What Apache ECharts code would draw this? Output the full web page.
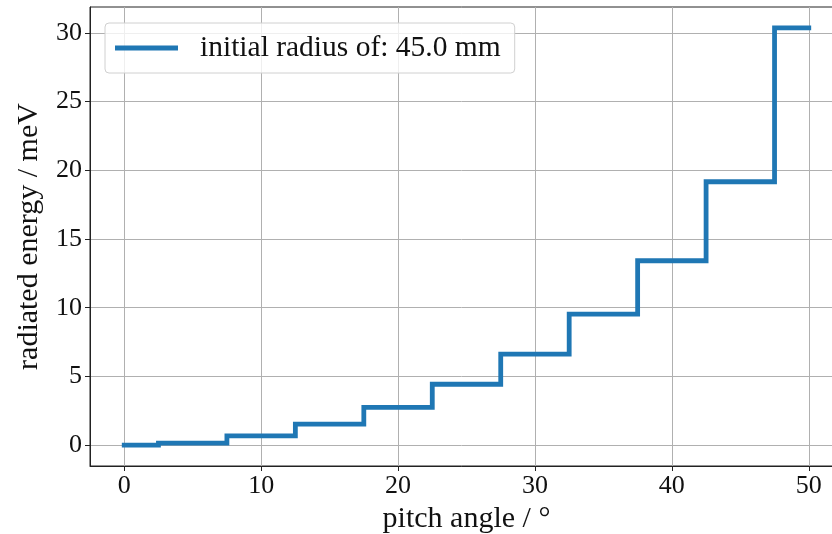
<!DOCTYPE html>
<html>
<head>
<meta charset="utf-8">
<script src="https://cdn.jsdelivr.net/npm/echarts@6/dist/echarts.min.js"></script>
<style>html,body{margin:0;padding:0;background:#fff;}#c{width:832px;height:534px;}</style>
</head>
<body>
<div id="c"></div>
<script>
const pitchAngles = [0, 5, 10, 15, 20, 25, 30, 35, 40, 45, 50];
const radiatedEnergy = [0.0, 0.15, 0.67, 1.53, 2.74, 4.43, 6.63, 9.53, 13.42, 19.17, 30.37];
const xTicks = [0, 10, 20, 30, 40, 50];
const yTicks = [0, 5, 10, 15, 20, 25, 30];
const seriesName = 'initial radius of: 45.0 mm';

const FONT = 'Liberation Serif';
const chart = echarts.init(document.getElementById('c'), null, {renderer: 'canvas'});
chart.setOption({
  animation: false,
  backgroundColor: '#ffffff',
  grid: {left: 90, top: 7, width: 753, height: 459, outerBoundsMode: 'none', containLabel: false,
         show: true, borderColor: '#222', borderWidth: 1},
  legend: {
    left: 105, top: 23,
    padding: [10, 14, 10, 10],
    icon: 'rect',
    itemWidth: 63, itemHeight: 5,
    backgroundColor: 'rgba(255,255,255,0.8)',
    borderColor: '#d0d0d0', borderWidth: 1, borderRadius: 4,
    textStyle: {fontFamily: FONT, fontSize: 29.5, color: '#111', padding: [0, 0, 0, 17]},
    data: [seriesName]
  },
  xAxis: {
    type: 'value', min: -2.5, max: 52.5,
    name: 'pitch angle / °', nameLocation: 'middle', nameGap: 34,
    nameTextStyle: {fontFamily: FONT, fontSize: 30, color: '#111'},
    axisLine: {show: true, onZero: false, lineStyle: {color: '#222', width: 1}},
    axisTick: {show: true, inside: false, length: 5, lineStyle: {color: '#222', width: 1}, customValues: xTicks},
    axisLabel: {fontFamily: FONT, fontSize: 26, color: '#111', margin: 7, customValues: xTicks},
    splitLine: {show: true, lineStyle: {color: '#b0b0b0', width: 1}}
  },
  yAxis: {
    type: 'value', min: -1.52, max: 31.89,
    name: 'radiated energy / meV', nameLocation: 'middle', nameGap: 46,
    nameTextStyle: {fontFamily: FONT, fontSize: 30, color: '#111'},
    axisLine: {show: true, onZero: false, lineStyle: {color: '#222', width: 1}},
    axisTick: {show: true, inside: false, length: 5, lineStyle: {color: '#222', width: 1}, customValues: yTicks},
    axisLabel: {fontFamily: FONT, fontSize: 26, color: '#111', margin: 8, customValues: yTicks},
    splitLine: {show: true, lineStyle: {color: '#b0b0b0', width: 1}}
  },
  series: [{
    name: seriesName,
    type: 'line',
    step: 'middle',
    symbol: 'none',
    color: '#1f77b4',
    lineStyle: {color: '#1f77b4', width: 4.8, cap: 'square', join: 'miter'},
    data: pitchAngles.map((x, i) => [x, radiatedEnergy[i]])
  }]
});
</script>
</body>
</html>
